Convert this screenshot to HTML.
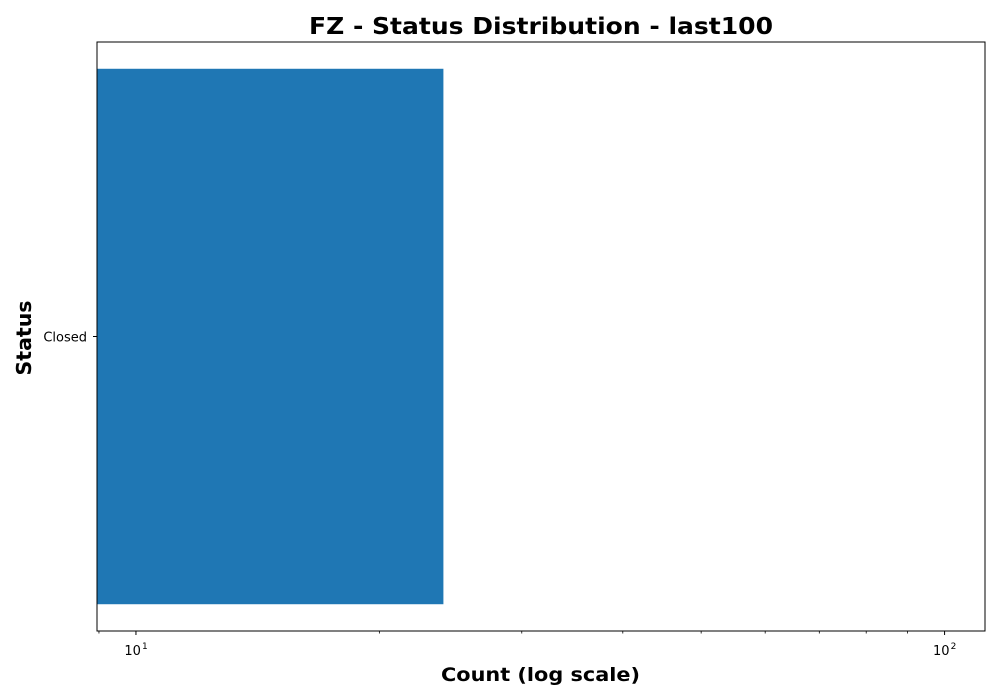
<!DOCTYPE html>
<html><head><meta charset="utf-8"><style>body{margin:0;background:#fff}svg{display:block;font-family:"DejaVu Sans","Liberation Sans",sans-serif}</style></head>
<body>
<svg id="c" width="1000" height="700"></svg>
<script>
const categories=["Closed"];
const counts=[24];
const majorTicks=[10,100];
const minorTicks=[9,20,30,40,50,60,70,80,90];
const L=97,R=985,T=42,B=631;
const xmin=Math.log10(8.95), xmax=Math.log10(112.2);
const x=v=>L+(Math.log10(v)-xmin)/(xmax-xmin)*(R-L);
const n=categories.length;
const unitPx=(B-T)/((n-1)+0.88);
const y=i=>B-(i+0.44)*unitPx;
const svg=document.getElementById('c');
const NS='http://www.w3.org/2000/svg';
function mk(t,a,txt){const e=document.createElementNS(NS,t);for(const k in a)e.setAttribute(k,a[k]);if(txt!==undefined)e.textContent=txt;svg.appendChild(e);return e;}
counts.forEach((v,i)=>{
  const cy=y(i),h=unitPx*0.8;
  const r=mk('rect',{x:L,y:cy-h/2,width:x(v)-L,height:h,fill:'#1f77b4'});
  
  
  mk('line',{x1:L,x2:L-4,y1:cy,y2:cy,stroke:'#000','stroke-width':1});
  const t=mk('text',{x:L-10,y:cy+5,'text-anchor':'end','font-size':13},categories[i]);
  
  
});
mk('rect',{x:L,y:T,width:R-L,height:B-T,fill:'none',stroke:'#000','stroke-width':1});
minorTicks.forEach(v=>{mk('line',{x1:x(v),x2:x(v),y1:B,y2:B+2.5,stroke:'#000','stroke-width':0.8});});
majorTicks.forEach(v=>{
  const px=x(v);
  mk('line',{x1:px,x2:px,y1:B,y2:B+4,stroke:'#000','stroke-width':1});
  const t=mk('text',{x:px+5,y:B+24,'text-anchor':'end','font-size':13},'10');
  
  
  mk('text',{x:px+6,y:B+18,'text-anchor':'start','font-size':9},String(Math.round(Math.log10(v))));
});
const tt=mk('text',{x:309,y:34,'font-size':23,'font-weight':'bold',textLength:464,lengthAdjust:'spacingAndGlyphs'},'FZ - Status Distribution - last100');

const xt=mk('text',{x:441,y:681,'font-size':19,'font-weight':'bold',textLength:199,lengthAdjust:'spacingAndGlyphs'},'Count (log scale)');

const yt=mk('text',{x:0,y:0,'text-anchor':'middle','font-size':20,'font-weight':'bold',textLength:75,lengthAdjust:'spacingAndGlyphs',transform:'translate(31,338) rotate(-90)'},'Status');

</script>
</body></html>
